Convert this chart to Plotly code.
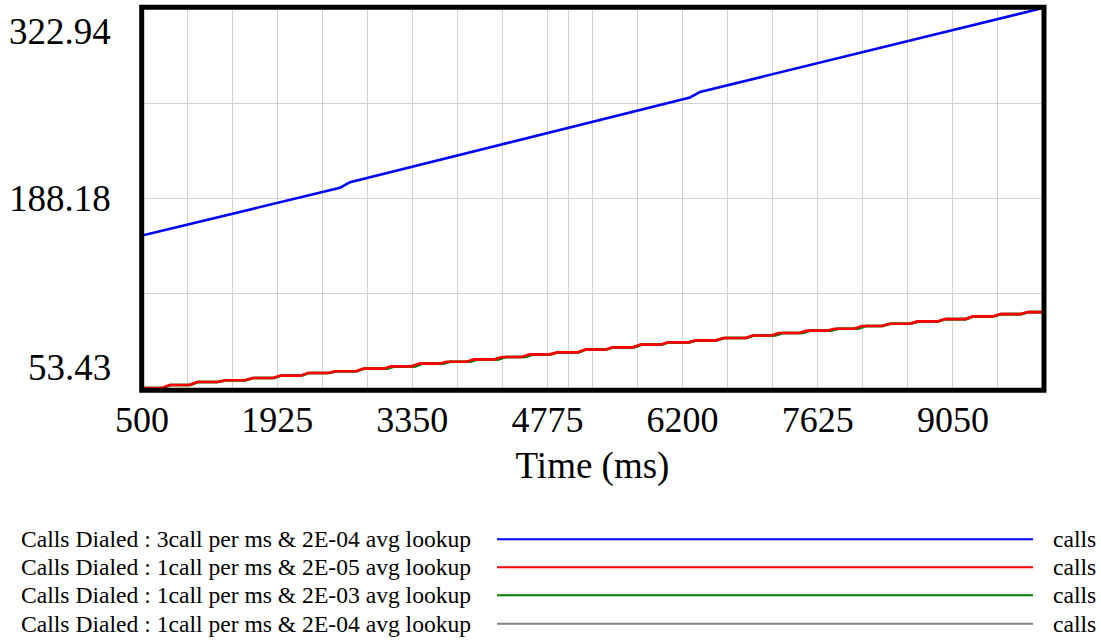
import plotly.graph_objects as go

# ---------------- data ----------------
blue_t = [500, 2588, 2650, 2693, 6278, 6335, 6384, 10000]
blue_v = [161.6, 195.4, 197.8, 199.3, 259.5, 261.9, 263.4, 322.94]

red_t = [500, 710, 790, 1000, 1080, 1295, 1375, 1585, 1665, 1880, 1960, 2170, 2250,
         2460, 2540, 2755, 2835, 3045, 3125, 3340, 3420, 3630, 3710, 3920, 4000,
         4215, 4295, 4505, 4585, 4800, 4880, 5090, 5170, 5380, 5460, 5675, 5755,
         5965, 6045, 6260, 6340, 6550, 6630, 6860, 6940, 7135, 7215, 7425, 7505,
         7720, 7800, 8010, 8090, 8300, 8380, 8595, 8675, 8885, 8965, 9180, 9260,
         9470, 9550, 9760, 9840, 10000]
red_v = [53.43, 53.43, 55.56, 55.56, 57.68, 57.68, 58.88, 58.88, 60.51, 60.51, 62.21,
         62.21, 64.05, 64.05, 65.26, 65.26, 67.17, 67.17, 68.80, 68.80, 70.71, 70.71,
         72.06, 72.06, 73.76, 73.76, 75.39, 75.39, 77.30, 77.30, 78.71, 78.71, 80.63,
         80.63, 82.26, 82.26, 84.17, 84.17, 85.80, 85.80, 87.22, 87.22, 88.85, 88.85,
         90.69, 90.69, 92.39, 92.39, 94.09, 94.09, 95.50, 95.50, 97.35, 97.35, 99.05,
         99.05, 100.67, 100.67, 102.30, 102.30, 104.22, 104.22, 105.84, 105.84,
         107.26, 107.26]

green_t = [500, 720, 800, 1010, 1090, 1305, 1385, 1595, 1675, 1890, 1970, 2180, 2260,
           2470, 2550, 2765, 2845, 3085, 3165, 3380, 3460, 3670, 3750, 3960, 4040,
           4255, 4335, 4545, 4625, 4810, 4890, 5100, 5180, 5390, 5470, 5685, 5765,
           5975, 6055, 6270, 6350, 6560, 6640, 6870, 6950, 7175, 7255, 7465, 7545,
           7760, 7840, 8050, 8130, 8310, 8390, 8605, 8685, 8895, 8975, 9190, 9270,
           9480, 9560, 9770, 9850, 10000]
green_v = [53.43, 53.43, 55.56, 55.56, 57.68, 57.68, 58.88, 58.88, 60.51, 60.51, 62.21,
           62.21, 64.05, 64.05, 65.26, 65.26, 67.17, 67.17, 68.80, 68.80, 70.71, 70.71,
           72.06, 72.06, 73.76, 73.76, 75.39, 75.39, 77.30, 77.30, 78.71, 78.71, 80.63,
           80.63, 82.26, 82.26, 84.17, 84.17, 85.80, 85.80, 87.22, 87.22, 88.85, 88.85,
           90.69, 90.69, 92.39, 92.39, 94.09, 94.09, 95.50, 95.50, 97.35, 97.35, 99.05,
           99.05, 100.67, 100.67, 102.30, 102.30, 104.22, 104.22, 105.84, 105.84,
           107.26, 107.26]

gray_t = list(green_t)
gray_v = list(green_v)

series_names = [
    "Calls Dialed : 3call per ms & 2E-04 avg lookup",
    "Calls Dialed : 1call per ms & 2E-05 avg lookup",
    "Calls Dialed : 1call per ms & 2E-03 avg lookup",
    "Calls Dialed : 1call per ms & 2E-04 avg lookup",
]
series_colors = ["#0000ff", "#ff0000", "#008000", "#808080"]
unit_label = "calls"

x_grid = [500, 975, 1450, 1925, 2400, 2875, 3350, 3825, 4300, 4775, 5000, 5250, 5725,
          6200, 6675, 7150, 7625, 8100, 8575, 9050, 9525]
x_labels = [500, 1925, 3350, 4775, 6200, 7625, 9050]
y_grid = [53.43, 120.80, 188.18, 255.56, 322.94]
y_labels = [53.43, 188.18, 322.94]
y_label_text = ["53.43", "188.18", "322.94"]
x_min, x_max = 500, 10000
y_min, y_max = 53.43, 322.94

FONT = "Liberation Serif, Times New Roman, serif"

fig = go.Figure()
# draw order: gray, green, red, blue (gray hidden underneath)
for name, t, v, c in [
    (series_names[3], gray_t, gray_v, series_colors[3]),
    (series_names[2], green_t, green_v, series_colors[2]),
    (series_names[1], red_t, red_v, series_colors[1]),
    (series_names[0], blue_t, blue_v, series_colors[0]),
]:
    fig.add_trace(go.Scatter(x=t, y=v, mode="lines", name=name,
                             line=dict(color=c, width=2.6), showlegend=False,
                             cliponaxis=False))

L, R, T, B = 142, 58, 8, 252.5
W, H = 1101, 641
plot_w = W - L - R
plot_h = H - T - B

def px_to_paper_x(px):
    return (px - L) / plot_w

def px_to_paper_y(py):
    return (H - B - py) / plot_h

fig.update_layout(
    width=W, height=H, autosize=False,
    margin=dict(l=L, r=R, t=T, b=B, pad=0),
    plot_bgcolor="white", paper_bgcolor="white",
    font=dict(family=FONT, color="black"),
    xaxis=dict(
        range=[x_min, x_max], tickmode="array", tickvals=x_grid,
        ticktext=[str(v) if v in x_labels else "" for v in x_grid],
        showgrid=True, gridcolor="#d2d2d2", gridwidth=1,
        zeroline=False, showline=False, ticks="",
        tickfont=dict(family=FONT, size=36, color="black"),
        ticklabelstandoff=7,
        title=dict(text="Time (ms)", font=dict(family=FONT, size=37, color="black"),
                   standoff=13),
    ),
    yaxis=dict(
        range=[y_min, y_max], tickmode="array", tickvals=y_grid,
        showticklabels=False, showgrid=True, gridcolor="#d2d2d2", gridwidth=1,
        zeroline=False, showline=False, ticks="",
    ),
)

# plot frame (Vensim draws it slightly outside the data area at bottom/right)
fig.add_shape(type="rect", xref="paper", yref="paper",
              x0=-0.3 / plot_w, x1=1 + 1.0 / plot_w,
              y0=-2.2 / plot_h, y1=1 + 0.7 / plot_h,
              line=dict(color="black", width=5), layer="above")

# y tick labels (Vensim-style placement)
y_shifts = [21, 0, -23]
for val, txt, ys in zip(y_labels, y_label_text, y_shifts):
    fig.add_annotation(x=0, xref="paper", y=val, yref="y", text=txt, showarrow=False,
                       xanchor="right", yanchor="middle", xshift=-29, yshift=ys,
                       font=dict(family=FONT, size=37, color="black"))

# legend block
row_y = [540, 568, 596, 624.5]
for name, c, py in zip(series_names, series_colors, row_y):
    yp = px_to_paper_y(py)
    fig.add_annotation(x=px_to_paper_x(19), xref="paper", y=yp, yref="paper", text=name,
                       showarrow=False, xanchor="left", yanchor="middle",
                       font=dict(family=FONT, size=23.6, color="black"))
    fig.add_shape(type="line", xref="paper", yref="paper",
                  x0=px_to_paper_x(497), x1=px_to_paper_x(1033), y0=yp, y1=yp,
                  line=dict(color=c, width=2))
    fig.add_annotation(x=px_to_paper_x(1051), xref="paper", y=yp, yref="paper",
                       text=unit_label, showarrow=False, xanchor="left", yanchor="middle",
                       font=dict(family=FONT, size=23.6, color="black"))

fig.write_html(
    "out.html",
    config={"displayModeBar": False},
    post_script="document.body.style.margin='0';document.body.style.padding='0';"
                "document.body.style.overflow='hidden';",
)
